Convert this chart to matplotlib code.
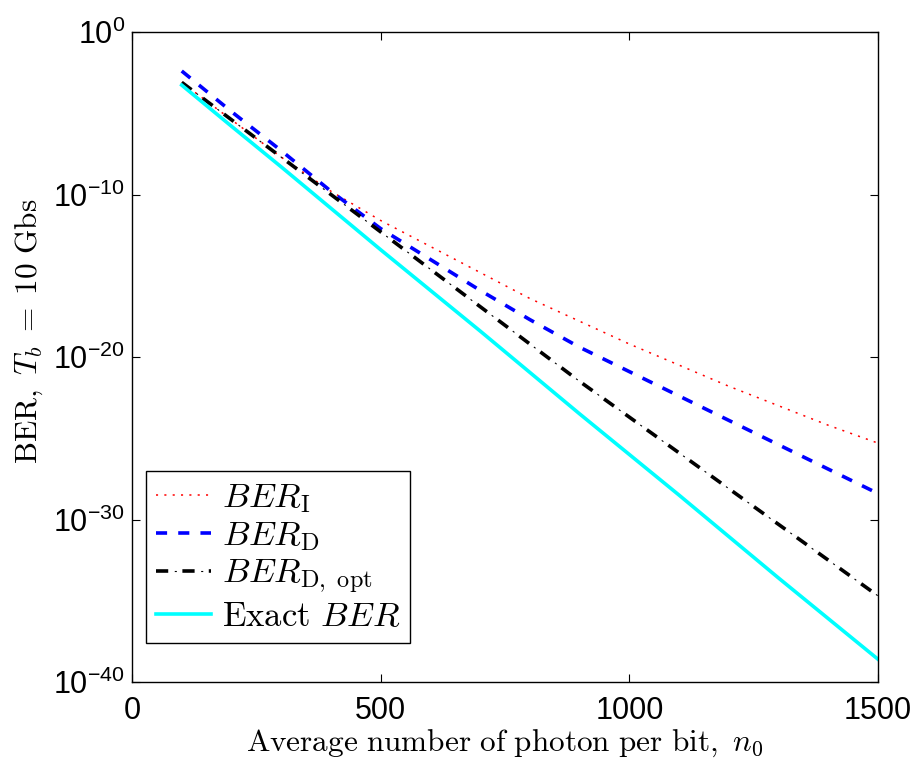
import numpy as np
import matplotlib.pyplot as plt
from matplotlib.ticker import NullLocator

plt.rcParams['font.family'] = ['Liberation Sans', 'DejaVu Sans']
plt.rcParams['mathtext.fontset'] = 'custom'
plt.rcParams['mathtext.rm'] = 'Liberation Sans'
plt.rcParams['mathtext.it'] = 'Liberation Sans:italic'
plt.rcParams['lines.scale_dashes'] = False

# average photons per bit
n0 = [100, 200, 300, 400, 500, 600, 700, 800, 900, 1000, 1100, 1200, 1300, 1400, 1500]

# log10 of the bit error rate for each approximation
log_ber_i = [-3.1, -5.4, -7.7, -9.8, -11.6, -13.2, -14.8, -16.4, -17.8, -19.2,
             -20.5, -21.8, -23.0, -24.2, -25.3]
log_ber_d = [-2.4, -4.9, -7.3, -9.8, -12.1, -14.0, -15.9, -17.7, -19.4, -20.9,
             -22.4, -23.9, -25.4, -26.9, -28.4]
log_ber_d_opt = [-3.1, -5.4, -7.7, -10.0, -12.3, -14.6, -16.9, -19.2, -21.5, -23.7,
                 -25.9, -28.1, -30.3, -32.5, -34.7]
log_ber_exact = [-3.27, -5.8, -8.3, -10.85, -13.4, -15.9, -18.4, -20.95, -23.5, -26.0,
                 -28.5, -31.05, -33.6, -36.1, -38.6]

ber_i = np.power(10.0, log_ber_i)
ber_d = np.power(10.0, log_ber_d)
ber_d_opt = np.power(10.0, log_ber_d_opt)
ber_exact = np.power(10.0, log_ber_exact)

fig = plt.figure(figsize=(9.23, 7.64), dpi=100)
ax = fig.add_axes([132 / 923, 82 / 764, 746 / 923, 650 / 764])

ax.semilogy(n0, ber_i, color='red', lw=1.1, linestyle=(0, (1.5, 4.5)))
ax.semilogy(n0, ber_d, color='blue', lw=2.6, linestyle=(0, (8, 8)))
# dash-dot: thick dashes plus thin dots in between
l_dash, = ax.semilogy(n0, ber_d_opt, color='black', lw=2.6, linestyle=(0, (8.8, 10.2)))
l_dot, = ax.semilogy(n0, ber_d_opt, color='black', lw=0.8, linestyle=(5.85, (1.5, 17.5)))
l_exact, = ax.semilogy(n0, ber_exact, color='cyan', lw=2.6)

ax.set_xlim(0, 1500)
ax.set_ylim(1e-40, 1e0)
ax.set_xticks([0, 500, 1000, 1500])
ax.set_yticks([1e0, 1e-10, 1e-20, 1e-30, 1e-40])
ax.yaxis.set_minor_locator(NullLocator())
ax.tick_params(direction='in', length=6, width=0.8, top=True, right=True, labelsize=22)
ax.tick_params(axis='x', pad=10)
ax.tick_params(axis='y', pad=5)
for s in ax.spines.values():
    s.set_linewidth(1.0)

xl = ax.set_xlabel(r'$\mathrm{Average\ number\ of\ photon\ per\ bit,}\ n_0$', fontsize=22.5, labelpad=1)
xl.set_math_fontfamily('cm')
yl = ax.set_ylabel(r'$\mathrm{BER,}\ T_b\;=\;10\ \mathrm{Gbs}$', fontsize=22.5)
yl.set_math_fontfamily('cm')
ax.yaxis.set_label_coords(-0.117, 0.54)

handles = [ax.lines[0], ax.lines[1], (l_dash, l_dot), l_exact]
labels = [r'$BER_{\mathrm{I}}$', r'$BER_{\mathrm{D}}$', r'$BER_{\mathrm{D,\ opt}}$', r'$\mathrm{Exact}\ BER$']
leg = ax.legend(handles, labels, loc='lower left', bbox_to_anchor=(0.0188, 0.06),
                borderaxespad=0, fontsize=25, fancybox=False, edgecolor='black',
                framealpha=1, handlelength=1.6, handletextpad=0.3, labelspacing=0.12,
                borderpad=0.28)
leg.get_frame().set_linewidth(1.0)
for t in leg.get_texts():
    t.set_math_fontfamily('cm')

fig.savefig('out.png', dpi=100)
